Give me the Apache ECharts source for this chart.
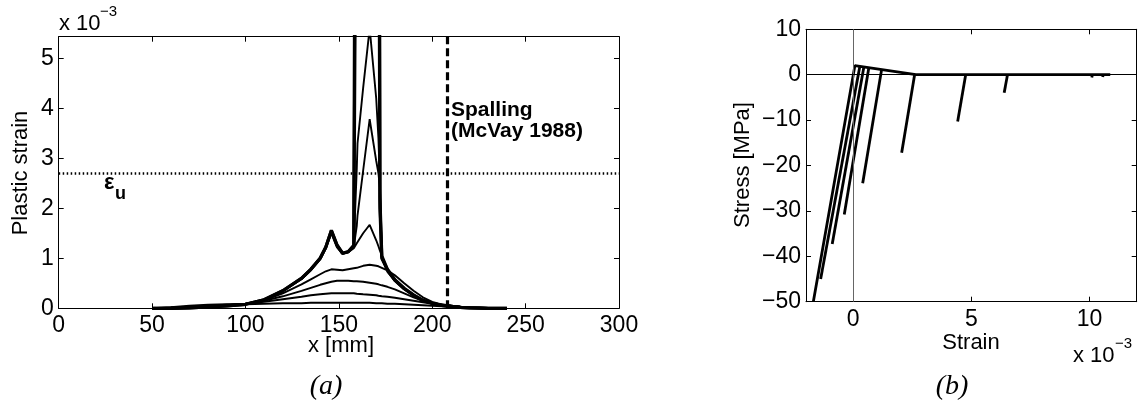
<!DOCTYPE html>
<html><head><meta charset="utf-8">
<script src="https://cdn.jsdelivr.net/npm/echarts@6/dist/echarts.min.js"></script>
<style>html,body{margin:0;padding:0;background:#fff}#c{width:1142px;height:403px}</style>
</head><body><div id="c"></div>
<script>
// ---- Panel (a): plastic strain (x 10^-3) vs position x [mm]
const xMm = [50,60,70,80,90,100,110,120,130,135,140,143,146,149,152,155,158,159.6,160,163,166.5,170,171.2,172,173,176,180,185,190,195,200,205,210,215,220,230,240];
const strain1 = [0,0.02,0.05,0.07,0.08,0.08,0.09,0.1,0.1,0.11,0.11,0.11,0.11,0.11,0.11,0.11,0.11,0.11,0.11,0.11,0.11,0.1,0.1,0.1,0.1,0.09,0.09,0.08,0.07,0.06,0.05,0.04,0.035,0.025,0.02,0.008,0];
const strain2 = [0,0.01,0.03,0.05,0.07,0.09,0.13,0.18,0.23,0.26,0.28,0.29,0.3,0.3,0.3,0.3,0.3,0.29,0.29,0.28,0.27,0.26,0.25,0.25,0.24,0.23,0.21,0.18,0.15,0.12,0.09,0.07,0.05,0.03,0.02,0.005,0];
const strain3 = [0,0.01,0.02,0.04,0.06,0.09,0.15,0.24,0.35,0.41,0.47,0.5,0.53,0.55,0.55,0.55,0.54,0.54,0.54,0.53,0.51,0.49,0.48,0.47,0.46,0.43,0.38,0.3,0.22,0.15,0.1,0.07,0.05,0.03,0.015,0.005,0];
const strain4 = [0,0.005,0.02,0.03,0.05,0.08,0.16,0.3,0.48,0.58,0.68,0.74,0.78,0.77,0.76,0.78,0.8,0.81,0.82,0.85,0.87,0.85,0.84,0.83,0.81,0.76,0.66,0.5,0.35,0.22,0.13,0.08,0.05,0.03,0.01,0,0];
const strain5 = [0,0,0.01,0.03,0.05,0.08,0.17,0.34,0.58,0.76,0.98,1.2,1.5,1.22,1.09,1.12,1.2,1.3,1.33,1.5,1.67,1.36,1.24,1.15,1.05,0.73,0.55,0.38,0.25,0.15,0.09,0.06,0.04,0.02,0.01,0,0];
const strain6 = [0,0,0.01,0.03,0.05,0.08,0.17,0.35,0.6,0.78,1.0,1.22,1.53,1.25,1.1,1.13,1.23,1.65,1.86,2.75,3.78,2.95,2.7,2.4,1.0,0.75,0.56,0.39,0.26,0.16,0.1,0.06,0.04,0.02,0.01,0,0];
const strain7 = [0,0,0.01,0.03,0.05,0.08,0.17,0.35,0.6,0.78,1.0,1.22,1.55,1.26,1.1,1.13,1.25,2.8,3.3,4.4,5.6,4.2,3.4,2.5,1.0,0.76,0.56,0.39,0.26,0.16,0.1,0.06,0.04,0.02,0.01,0,0];
const strain8 = [0,0,0.01,0.03,0.05,0.08,0.17,0.35,0.6,0.78,1.0,1.22,1.55,1.26,1.1,1.13,1.25,12,15,20,25,20,12,2.0,1.0,0.77,0.56,0.39,0.26,0.16,0.1,0.06,0.04,0.02,0.01,0,0];
const strain9 = [0,0,0.01,0.03,0.05,0.08,0.17,0.35,0.6,0.78,1.0,1.22,1.56,1.27,1.1,1.13,1.26,20,24,30,35,30,20,2.2,1.05,0.78,0.57,0.4,0.27,0.16,0.1,0.06,0.04,0.02,0.01,0,0];
const strainCurves = [strain1,strain2,strain3,strain4,strain5,strain6,strain7,strain8,strain9];
const curveWidths = [1.9,1.9,1.9,1.9,1.9,1.9,1.9,3.2,3.2];
const xTicksA = [0,50,100,150,200,250,300];
const yTicksA = [0,1,2,3,4,5];
const ultimateStrain = 2.7;   // eps_u (x 10^-3)
const spallingX = 208;        // mm

// ---- Panel (b): stress [MPa] vs strain (x 10^-3)
const envelope = [[-1.69,-50],[0.07,2.0],[2.65,0],[10.88,0]];
const unload1 = [[0.28,1.84],[-1.38,-45]];
const unload2 = [[0.45,1.7],[-0.89,-37.3]];
const unload3 = [[0.66,1.54],[-0.38,-30.8]];
const unload4 = [[1.2,1.12],[0.4,-23.9]];
const unload5 = [[2.6,0.04],[2.05,-17.2]];
const unload6 = [[4.76,0],[4.42,-10.3]];
const unload7 = [[6.53,0],[6.39,-4.0]];
const unload8 = [[10.12,0],[10.1,-0.6]];
const unload9 = [[10.58,0],[10.56,-0.5]];
const stressCurves = [envelope,unload1,unload2,unload3,unload4,unload5,unload6,unload7,unload8,unload9];
const xTicksB = [0,5,10];
const yTicksB = [-50,-40,-30,-20,-10,0,10];

const FONT = '"Liberation Sans", Arial, sans-serif';
const lblStyle = {color:'#000', fontFamily:FONT, fontSize:23};
const axLine = {show:true, onZero:false, lineStyle:{color:'#000', width:1}};
const tick = (vals) => ({show:true, inside:true, length:5, lineStyle:{color:'#000', width:1}, customValues: vals});
const minus = v => String(v).replace('-', '\u2212');

const chart = echarts.init(document.getElementById('c'), null, {renderer:'canvas'});

const series = [];
strainCurves.forEach((c, k) => series.push({
  type:'line', xAxisIndex:0, yAxisIndex:0, showSymbol:false, clip:true, silent:true,
  lineStyle:{color:'#000', width:curveWidths[k]}, data: xMm.map((x,i)=>[x,c[i]])
}));
series[0].markLine = {
  symbol:'none', silent:true, label:{show:false},
  data:[
    {yAxis: ultimateStrain, lineStyle:{type:[1.5,2.5], width:2.5, color:'#000'}},
    {xAxis: spallingX, lineStyle:{type:[8,4], width:3.2, color:'#000'}}
  ]
};
stressCurves.forEach(c => series.push({
  type:'line', xAxisIndex:2, yAxisIndex:2, showSymbol:false, clip:true, silent:true,
  lineStyle:{color:'#000', width:2.8}, data: c
}));
// reference lines at zero in panel (b)
series[series.length-1].markLine = {
  symbol:'none', silent:true, label:{show:false},
  data:[
    {xAxis:0, lineStyle:{type:'solid', width:1, color:'#666'}},
    {yAxis:0, lineStyle:{type:'solid', width:1, color:'#000'}}
  ]
};

chart.setOption({
  animation:false,
  backgroundColor:'#fff',
  grid:[
    {left:58.7, top:36.7, right:523, bottom:94.7},
    {left:806, top:29.3, right:5.3, bottom:101.3}
  ],
  xAxis:[
    {gridIndex:0, type:'value', min:0, max:300, position:'bottom', axisLine:axLine, splitLine:{show:false},
     axisTick:tick(xTicksA), axisLabel:{...lblStyle, margin:6, customValues:xTicksA}},
    {gridIndex:0, type:'value', min:0, max:300, position:'top', axisLine:axLine, splitLine:{show:false},
     axisTick:tick(xTicksA), axisLabel:{show:false}},
    {gridIndex:1, type:'value', min:-2, max:12, position:'bottom', axisLine:axLine, splitLine:{show:false},
     axisTick:tick(xTicksB), axisLabel:{...lblStyle, margin:6, customValues:xTicksB}},
    {gridIndex:1, type:'value', min:-2, max:12, position:'top', axisLine:axLine, splitLine:{show:false},
     axisTick:tick(xTicksB), axisLabel:{show:false}}
  ],
  yAxis:[
    {gridIndex:0, type:'value', min:0, max:5.43, position:'left', axisLine:axLine, splitLine:{show:false},
     axisTick:tick(yTicksA), axisLabel:{...lblStyle, margin:5, customValues:yTicksA}},
    {gridIndex:0, type:'value', min:0, max:5.43, position:'right', axisLine:axLine, splitLine:{show:false},
     axisTick:tick(yTicksA), axisLabel:{show:false}},
    {gridIndex:1, type:'value', min:-50, max:10, position:'left', axisLine:axLine, splitLine:{show:false},
     axisTick:tick(yTicksB), axisLabel:{...lblStyle, margin:5, customValues:yTicksB, formatter:minus}},
    {gridIndex:1, type:'value', min:-50, max:10, position:'right', axisLine:axLine, splitLine:{show:false},
     axisTick:tick(yTicksB), axisLabel:{show:false}}
  ],
  series: series,
  graphic:[
    // panel (a) texts
    {type:'text', x:59, y:24, style:{text:'x 10', font:'22px '+FONT, fill:'#000', textAlign:'left', textVerticalAlign:'middle'}},
    {type:'text', x:100, y:12, style:{text:'\u22123', font:'15px '+FONT, fill:'#000', textAlign:'left', textVerticalAlign:'middle'}},
    {type:'text', x:21, y:173, rotation:Math.PI/2, style:{text:'Plastic strain', font:'22px '+FONT, fill:'#000', textAlign:'center', textVerticalAlign:'middle'}},
    {type:'text', x:341, y:346, style:{text:'x [mm]', font:'22px '+FONT, fill:'#000', textAlign:'center', textVerticalAlign:'middle'}},
    {type:'text', x:326, y:387, style:{text:'(a)', font:'italic 28px "Liberation Serif", "Times New Roman", serif', fill:'#000', textAlign:'center', textVerticalAlign:'middle'}},
    {type:'text', x:451, y:110, style:{text:'Spalling', font:'bold 21px '+FONT, fill:'#000', textAlign:'left', textVerticalAlign:'middle'}},
    {type:'text', x:451, y:131, style:{text:'(McVay 1988)', font:'bold 21px '+FONT, fill:'#000', textAlign:'left', textVerticalAlign:'middle'}},
    {type:'text', x:104, y:183, style:{text:'\u03b5', font:'bold 22px '+FONT, fill:'#000', textAlign:'left', textVerticalAlign:'middle'}},
    {type:'text', x:115, y:194, style:{text:'u', font:'bold 18px '+FONT, fill:'#000', textAlign:'left', textVerticalAlign:'middle'}},
    // panel (b) texts
    {type:'text', x:743, y:165, rotation:Math.PI/2, style:{text:'Stress [MPa]', font:'22px '+FONT, fill:'#000', textAlign:'center', textVerticalAlign:'middle'}},
    {type:'text', x:971, y:343, style:{text:'Strain', font:'22px '+FONT, fill:'#000', textAlign:'center', textVerticalAlign:'middle'}},
    {type:'text', x:1073, y:356, style:{text:'x 10', font:'22px '+FONT, fill:'#000', textAlign:'left', textVerticalAlign:'middle'}},
    {type:'text', x:1115, y:344, style:{text:'\u22123', font:'15px '+FONT, fill:'#000', textAlign:'left', textVerticalAlign:'middle'}},
    {type:'text', x:952, y:387, style:{text:'(b)', font:'italic 28px "Liberation Serif", "Times New Roman", serif', fill:'#000', textAlign:'center', textVerticalAlign:'middle'}}
  ]
});
</script></body></html>
